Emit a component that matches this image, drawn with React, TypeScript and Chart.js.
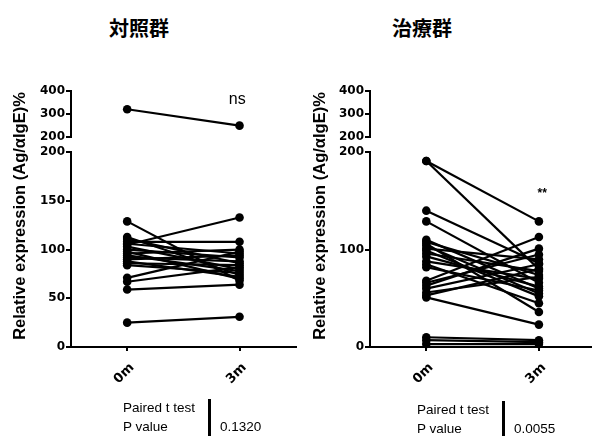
import React, { useEffect, useRef } from 'react';
import { Chart, registerables } from 'chart.js';

Chart.register(...registerables);

// ---- data ----
const timeLabels = ['0m', '3m'];
const panelTitles = ['対照群', '治療群'];
const yAxisTitle = 'Relative expression (Ag/αIgE)%';

const upperTicks = [200, 300, 400];
const controlLowerTicks = [0, 50, 100, 150, 200];
const treatLowerTicks = [0, 100, 200];

// control group (paired values, 0m -> 3m)
const control0m = [129, 105, 108, 113, 111, 106, 103, 100, 98, 96, 94, 92, 90, 88, 86, 84, 71, 67, 59, 25];
const control3m = [68, 133, 108, 74, 86, 96, 80, 92, 70, 100, 78, 88, 94, 72, 84, 76, 98, 82, 64, 31];
const controlHigh0m = [321];
const controlHigh3m = [250];

// treatment group
const treat0m = [191, 191, 140, 129, 110, 108, 106, 104, 101, 99, 96, 93, 88, 85, 82, 68, 66, 63, 60, 56, 53, 51, 10, 7, 3];
const treat3m = [129, 80, 86, 66, 60, 74, 36, 55, 90, 52, 78, 62, 70, 45, 58, 113, 95, 101, 85, 72, 80, 23, 7, 5, 3];
const treatHigh0m: number[] = [];
const treatHigh3m: number[] = [];

const sigLabels = ['ns', '**'];
const pValues = ['0.1320', '0.0055'];

// ---- plugin for axis title and significance mark ----
const annotPlugin = {
  id: 'annot',
  afterDraw(chart: any, _args: any, opts: any) {
    const ctx = chart.ctx;
    ctx.save();
    ctx.fillStyle = '#000';
    ctx.font = 'bold 16.5px "Liberation Sans", Arial, sans-serif';
    ctx.translate(opts.titleX, opts.titleY);
    ctx.rotate(-Math.PI / 2);
    ctx.textAlign = 'center';
    ctx.textBaseline = 'middle';
    ctx.fillText(yAxisTitle, 0, 0);
    ctx.restore();

    ctx.save();
    ctx.fillStyle = '#000';
    ctx.font = opts.sigFont;
    ctx.textAlign = 'center';
    ctx.textBaseline = 'middle';
    const xs = chart.scales.x;
    const ys = chart.scales[opts.sigAxis];
    ctx.fillText(opts.sig, xs.getPixelForValue(opts.sigX), ys.getPixelForValue(opts.sigY));
    ctx.restore();
  },
};

type PanelProps = {
  left: number;
  width: number;
  before: number[];
  after: number[];
  highBefore: number[];
  highAfter: number[];
  lowerTicks: number[];
  xMax: number;
  axisWidth: number;
  sig: string;
  sigX: number;
  sigY: number;
  sigAxis: string;
  sigFont: string;
};

const tickFont = { family: '"DejaVu Sans", sans-serif', weight: 'bold' as const, size: 12 };
const xTickFont = { family: '"DejaVu Sans", sans-serif', weight: 'bold' as const, size: 13 };

function Panel(p: PanelProps) {
  const ref = useRef<HTMLCanvasElement>(null);
  useEffect(() => {
    if (!ref.current) return;
    const lineStyle = {
      borderColor: '#000',
      backgroundColor: '#000',
      borderWidth: 2.2,
      pointRadius: 4.3,
      pointBorderWidth: 0,
      pointBackgroundColor: '#000',
      clip: false as const,
      tension: 0,
    };
    const datasets: any[] = [];
    p.before.forEach((v, i) => {
      datasets.push({ ...lineStyle, yAxisID: 'yLow', data: [{ x: 0, y: v }, { x: 1, y: p.after[i] }] });
    });
    p.highBefore.forEach((v, i) => {
      datasets.push({ ...lineStyle, yAxisID: 'yTop', data: [{ x: 0, y: v }, { x: 1, y: p.highAfter[i] }] });
    });

    const yCommon = (w: number) => ({
      type: 'linear' as const,
      position: 'left' as const,
      stack: 'y',
      afterFit: (s: any) => { s.width = w; },
    });
    const axisGrid = {
      display: true,
      drawOnChartArea: false,
      drawTicks: true,
      tickLength: 5,
      color: '#000',
      lineWidth: 2,
    };
    const axisBorder = { display: true, color: '#000', width: 2 };
    const yTicks = { color: '#000', font: tickFont, padding: 1, autoSkip: false };

    const chart = new Chart(ref.current, {
      type: 'line',
      data: { datasets },
      options: {
        animation: false,
        responsive: false,
        maintainAspectRatio: false,
        events: [],
        layout: { padding: { top: 91, left: 0, right: 0, bottom: 0 } },
        plugins: {
          legend: { display: false },
          tooltip: { enabled: false },
          title: { display: false },
          annot: {
            titleX: 20,
            titleY: 216,
            sig: p.sig,
            sigX: p.sigX,
            sigY: p.sigY,
            sigAxis: p.sigAxis,
            sigFont: p.sigFont,
          },
        } as any,
        scales: {
          x: {
            type: 'linear',
            min: -0.5,
            max: p.xMax,
            afterBuildTicks: (s: any) => { s.ticks = timeLabels.map((_, i) => ({ value: i })); },
            afterFit: (s: any) => { s.height = 89; },
            ticks: {
              autoSkip: false,
              minRotation: 45,
              maxRotation: 45,
              padding: 9,
              labelOffset: 5,
              color: '#000',
              font: xTickFont,
              callback: (v: any) => timeLabels[v as number] ?? '',
            },
            grid: { ...axisGrid, tickLength: 4 },
            border: axisBorder,
          },
          yLow: {
            ...yCommon(p.axisWidth),
            stackWeight: 194,
            min: 0,
            max: 200,
            afterBuildTicks: (s: any) => { s.ticks = p.lowerTicks.map((v) => ({ value: v })); },
            ticks: yTicks,
            grid: axisGrid,
            border: axisBorder,
          },
          yGap: {
            ...yCommon(p.axisWidth),
            stackWeight: 15,
            min: 0,
            max: 1,
            ticks: { display: false },
            grid: { display: false },
            border: { display: false },
          },
          yTop: {
            ...yCommon(p.axisWidth),
            stackWeight: 46,
            min: 200,
            max: 400,
            afterBuildTicks: (s: any) => { s.ticks = upperTicks.map((v) => ({ value: v })); },
            ticks: yTicks,
            grid: axisGrid,
            border: axisBorder,
          },
        } as any,
      },
      plugins: [annotPlugin],
    });
    return () => chart.destroy();
  }, []);
  return (
    <canvas
      ref={ref}
      width={p.width}
      height={436}
      style={{ position: 'absolute', left: p.left, top: 0, width: p.width, height: 436 }}
    />
  );
}

const statFont: React.CSSProperties = {
  position: 'absolute',
  fontFamily: '"Liberation Sans", Arial, sans-serif',
  fontSize: 13.5,
  lineHeight: '16px',
  color: '#000',
  whiteSpace: 'nowrap',
};

function Stats({ x, y, barX, value }: { x: number; y: number; barX: number; value: string }) {
  return (
    <>
      <div style={{ ...statFont, left: x, top: y }}>Paired t test</div>
      <div style={{ ...statFont, left: x, top: y + 19 }}>P value</div>
      <div style={{ position: 'absolute', left: barX, top: y - 1, width: 2.5, height: 37, background: '#000' }} />
      <div style={{ ...statFont, left: barX + 12, top: y + 19 }}>{value}</div>
    </>
  );
}

const titleStyle: React.CSSProperties = {
  position: 'absolute',
  top: 16,
  width: 140,
  textAlign: 'center',
  fontFamily: '"Noto Sans CJK JP", sans-serif',
  fontWeight: 'bold',
  fontSize: 20,
  lineHeight: '24px',
  color: '#000',
};

export default function App() {
  return (
    <div style={{ position: 'absolute', left: 0, top: 0, width: 595, height: 436, background: '#fff', overflow: 'hidden' }}>
      <div style={{ ...titleStyle, left: 139 - 70 }}>{panelTitles[0]}</div>
      <div style={{ ...titleStyle, left: 422 - 70 }}>{panelTitles[1]}</div>
      <Panel
        left={0}
        width={300}
        before={control0m}
        after={control3m}
        highBefore={controlHigh0m}
        highAfter={controlHigh3m}
        lowerTicks={controlLowerTicks}
        xMax={1.5}
        axisWidth={71}
        sig={sigLabels[0]}
        sigX={0.98}
        sigY={364}
        sigAxis="yTop"
        sigFont='16px "Liberation Sans", Arial, sans-serif'
      />
      <Panel
        left={300}
        width={295}
        before={treat0m}
        after={treat3m}
        highBefore={treatHigh0m}
        highAfter={treatHigh3m}
        lowerTicks={treatLowerTicks}
        xMax={1.46}
        axisWidth={70}
        sig={sigLabels[1]}
        sigX={1.03}
        sigY={157}
        sigAxis="yLow"
        sigFont='bold 12px "Liberation Sans", Arial, sans-serif'
      />
      <Stats x={123} y={400} barX={208} value={pValues[0]} />
      <Stats x={417} y={402} barX={502} value={pValues[1]} />
    </div>
  );
}
